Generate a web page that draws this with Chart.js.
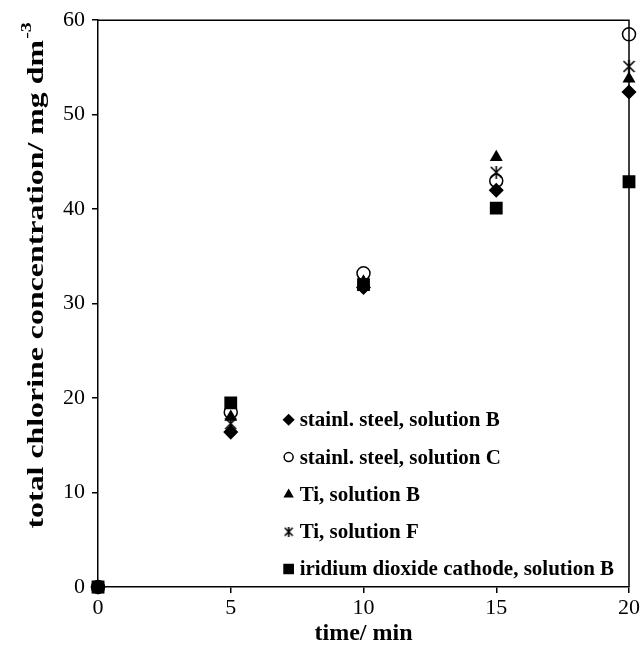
<!DOCTYPE html>
<html>
<head>
<meta charset="utf-8">
<script src="https://cdn.jsdelivr.net/npm/chart.js@4/dist/chart.umd.min.js"></script>
<style>
body { margin: 0; background: #fff; }
#wrap { width: 642px; height: 648px; position: relative; }
</style>
</head>
<body>
<div id="wrap"><canvas id="chlorine_chart"></canvas></div>
<script>
// DATA
var times = [0, 5, 10, 15, 20];
var steelB = [0, 16.4, 31.7, 42.0, 52.4];
var steelC = [0, 18.5, 33.2, 43.0, 58.5];
var tiB = [0, 18.0, 32.3, 45.5, 53.8];
var tiF = [0, 17.3, 32.2, 43.9, 55.1];
var iridiumB = [0, 19.5, 32.0, 40.1, 42.9];
var seriesNames = [
	'stainl. steel, solution B',
	'stainl. steel, solution C',
	'Ti, solution B',
	'Ti, solution F',
	'iridium dioxide cathode, solution B'
];
var xTicks = [0, 5, 10, 15, 20];
var yTicks = [0, 10, 20, 30, 40, 50, 60];
var yTitle = 'total chlorine concentration/ mg dm';
var yTitleSup = '-3';

// X-WITH-VERTICAL-BAR MARKER
function starMarker(size) {
	var c = document.createElement('canvas');
	c.width = size; c.height = size;
	var g = c.getContext('2d');
	g.strokeStyle = '#000';
	g.lineWidth = 1.6;
	g.beginPath();
	g.moveTo(1, 1); g.lineTo(size - 1, size - 1);
	g.moveTo(size - 1, 1); g.lineTo(1, size - 1);
	g.moveTo(size / 2, 0); g.lineTo(size / 2, size);
	g.stroke();
	return c;
}

function pts(arr) {
	return arr.map(function(v, i) { return {x: times[i], y: v}; });
}

var styles = [
	{pointStyle: 'rectRot', radius: 6.5, bg: '#000'},
	{pointStyle: 'circle', radius: 6.5, bg: 'rgba(0,0,0,0)'},
	{pointStyle: 'triangle', radius: 6, bg: '#000'},
	{pointStyle: starMarker(13), radius: 6, bg: '#000'},
	{pointStyle: 'rect', radius: 8, bg: '#000'}
];
var allSeries = [steelB, steelC, tiB, tiF, iridiumB];

var datasets = allSeries.map(function(s, i) {
	return {
		label: seriesNames[i],
		data: pts(s),
		showLine: false,
		clip: false,
		pointStyle: styles[i].pointStyle,
		pointRadius: styles[i].radius,
		pointHoverRadius: styles[i].radius,
		pointBackgroundColor: styles[i].bg,
		pointBorderColor: '#000',
		pointBorderWidth: 1.5
	};
});

// FRAME, Y TITLE AND LEGEND INSIDE PLOT
var framePlugin = {
	id: 'frame',
	afterDraw: function(chart) {
		var ctx = chart.ctx, a = chart.chartArea;
		ctx.save();
		ctx.strokeStyle = '#000';
		ctx.lineWidth = 1.5;
		ctx.beginPath();
		ctx.moveTo(a.left, a.top); ctx.lineTo(a.right, a.top); ctx.lineTo(a.right, a.bottom);
		ctx.stroke();

		// y title, a little stretched along its length like the original
		ctx.save();
		ctx.translate(37, 276);
		ctx.rotate(-Math.PI / 2);
		ctx.font = 'bold 24px "Liberation Serif"';
		var w1 = ctx.measureText(yTitle).width;
		ctx.font = 'bold 15px "Liberation Serif"';
		var w2 = ctx.measureText(yTitleSup).width;
		var targetLen = 505;
		var sx = targetLen / (w1 + w2);
		ctx.scale(sx, 1);
		ctx.textBaseline = 'middle';
		ctx.fillStyle = '#000';
		var start = -(w1 + w2) / 2;
		ctx.font = 'bold 24px "Liberation Serif"';
		ctx.fillText(yTitle, start, 0);
		ctx.font = 'bold 15px "Liberation Serif"';
		ctx.fillText(yTitleSup, start + w1 + 1, -10);
		ctx.restore();

		// legend
		var lx = a.left + (a.right - a.left) * 0.359;
		var ly = a.top + (a.bottom - a.top) * 0.705;
		var step = 37.3;
		ctx.textBaseline = 'middle';
		var legendStyles = [
			{pointStyle: 'rectRot', radius: 5},
			{pointStyle: 'circle', radius: 4.5},
			{pointStyle: 'triangle', radius: 4.5},
			{pointStyle: starMarker(10), radius: 5},
			{pointStyle: 'rect', radius: 6.5}
		];
		for (var i = 0; i < seriesNames.length; i++) {
			var y = ly + i * step;
			ctx.fillStyle = i === 1 ? 'rgba(0,0,0,0)' : '#000';
			ctx.strokeStyle = '#000';
			ctx.lineWidth = 1.5;
			Chart.helpers.drawPoint(ctx, {pointStyle: legendStyles[i].pointStyle, radius: legendStyles[i].radius, rotation: 0, borderWidth: 1.5}, lx, y);
			ctx.fillStyle = '#000';
			ctx.font = 'bold 21px "Liberation Serif"';
			ctx.fillText(seriesNames[i], lx + 11, y + 1);
		}
		ctx.restore();
	}
};

var ctxChart = document.getElementById('chlorine_chart').getContext('2d');
var chlorineChart = new Chart(ctxChart, {
	type: 'scatter',
	data: { datasets: datasets },
	options: {
		responsive: true,
		maintainAspectRatio: false,
		animation: false,
		layout: { padding: { top: 19, right: 13, left: 0, bottom: 0 } },
		plugins: {
			legend: { display: false },
			tooltip: { enabled: false }
		},
		scales: {
			x: {
				type: 'linear',
				min: 0,
				max: 20,
				afterBuildTicks: function(axis) {
					axis.ticks = xTicks.map(function(v) { return {value: v}; });
				},
				afterFit: function(axis) { axis.height = 61; },
				grid: { drawOnChartArea: false, drawTicks: true, tickLength: 6, color: '#000', lineWidth: 1.5 },
				border: { color: '#000', width: 1.5 },
				ticks: { color: '#000', padding: 2, font: { family: 'Liberation Serif', size: 22 } },
				title: {
					display: true,
					text: 'time/ min',
					color: '#000',
					padding: { top: 0, bottom: 0 },
					font: { family: 'Liberation Serif', size: 24, weight: 'bold' }
				}
			},
			y: {
				type: 'linear',
				min: 0,
				max: 60,
				afterBuildTicks: function(axis) {
					axis.ticks = yTicks.map(function(v) { return {value: v}; });
				},
				afterFit: function(axis) { axis.width = 98; },
				grid: { drawOnChartArea: false, drawTicks: true, tickLength: 6, color: '#000', lineWidth: 1.5 },
				border: { color: '#000', width: 1.5 },
				ticks: { color: '#000', padding: 7, font: { family: 'Liberation Serif', size: 22 } },
				title: { display: false }
			}
		}
	},
	plugins: [framePlugin]
});
</script>
</body>
</html>
